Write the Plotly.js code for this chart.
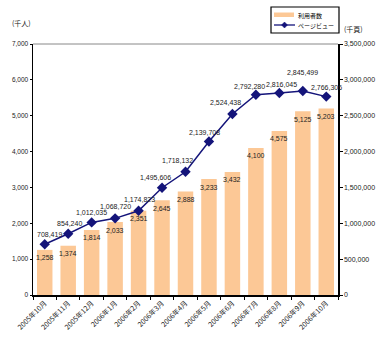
<!DOCTYPE html>
<html><head><meta charset="utf-8">
<script src="https://cdn.plot.ly/plotly-3.0.1.min.js"></script>
<style>html,body{margin:0;padding:0;background:#fff}#c{width:383px;height:355px}</style>
</head><body><div id="c"></div>
<script>
const months = ["2005年10月","2005年11月","2005年12月","2006年1月","2006年2月","2006年3月","2006年4月","2006年5月","2006年6月","2006年7月","2006年8月","2006年9月","2006年10月"];
const users = [1258,1374,1814,2033,2351,2645,2888,3233,3432,4100,4575,5125,5203];
const pageviews = [708419,854240,1012035,1068720,1174823,1495606,1718132,2139708,2524438,2792280,2816045,2845499,2766306];
const leftTicks = [0,1000,2000,3000,4000,5000,6000,7000];
const rightTicks = [0,500000,1000000,1500000,2000000,2500000,3000000,3500000];
const seriesNames = ["利用者数","ページビュー"];

// label placement nudges (pixels) – layout only
const pvNudgeX = [5,1,0,0,1,-7,-8,-4,-7,-6,2,0,0];
const pvNudgeY = [10,10,10,12,11,10,11,9,11,8,9,18,9];

const fmt = v => v.toLocaleString('en-US');
const NUM = "'Liberation Sans', Arial, sans-serif";
const CJK = "'Noto Sans CJK JP', 'Liberation Sans', sans-serif";
const NAVY = '#14147a';
const ORANGE = '#FCC896';

// pixel -> paper helpers (plot area: x 33..338, y 44..295)
const PX = x => (x-33)/305, PY = y => (295-y)/251;

const traces = [
  {type:'bar', name:seriesNames[0], x:months, y:users, marker:{color:ORANGE}, width:0.66, showlegend:false},
  {type:'scatter', mode:'lines+markers', name:seriesNames[1], x:months, y:pageviews, yaxis:'y2',
   line:{color:NAVY, width:1.5}, marker:{symbol:'diamond', size:8, color:NAVY}, showlegend:false, cliponaxis:false}
];

const annotations = [];
months.forEach((m,i) => {
  annotations.push({x:m, y:users[i], xref:'x', yref:'y', text:fmt(users[i]), showarrow:false,
    yanchor:'middle', yshift:-8, font:{family:NUM, size:7, color:'#222'}});
  annotations.push({x:m, y:pageviews[i], xref:'x', yref:'y2', text:fmt(pageviews[i]), showarrow:false,
    yanchor:'middle', yshift:pvNudgeY[i], xshift:pvNudgeX[i], font:{family:NUM, size:7, color:'#222'}});
});
annotations.push(
  {text:'(千人)', xref:'paper', yref:'paper', x:PX(10), y:PY(23), xanchor:'left', yanchor:'middle', showarrow:false, font:{family:CJK, size:7, color:'#222'}},
  {text:'(千頁)', xref:'paper', yref:'paper', x:PX(342), y:PY(29), xanchor:'left', yanchor:'middle', showarrow:false, font:{family:CJK, size:7, color:'#222'}},
  {text:seriesNames[0], xref:'paper', yref:'paper', x:PX(296), y:PY(15), xanchor:'left', yanchor:'middle', showarrow:false, font:{family:CJK, size:6, color:'#000'}},
  {text:seriesNames[1], xref:'paper', yref:'paper', x:PX(296), y:PY(25), xanchor:'left', yanchor:'middle', showarrow:false, font:{family:CJK, size:6, color:'#000'}}
);

const diamond = `M${PX(281.5)},${PY(25)} L${PX(284.5)},${PY(22)} L${PX(287.5)},${PY(25)} L${PX(284.5)},${PY(28)} Z`;
const shapes = [
  {type:'line', xref:'paper', yref:'paper', x0:0, x1:1, y0:1, y1:1, line:{color:'#888', width:1}},
  {type:'rect', xref:'paper', yref:'paper', x0:PX(271), x1:PX(339), y0:PY(7), y1:PY(33), line:{color:'#000', width:1.2}, fillcolor:'#fff'},
  {type:'rect', xref:'paper', yref:'paper', x0:PX(274), x1:PX(294), y0:PY(12.5), y1:PY(17), line:{width:0}, fillcolor:ORANGE},
  {type:'line', xref:'paper', yref:'paper', x0:PX(274), x1:PX(295), y0:PY(25), y1:PY(25), line:{color:NAVY, width:1.3}},
  {type:'path', xref:'paper', yref:'paper', path:diamond, line:{color:NAVY, width:0.5}, fillcolor:NAVY}
];

const layout = {
  width:383, height:355, margin:{l:33, r:45, t:44, b:60},
  paper_bgcolor:'#fff', plot_bgcolor:'#fff', showlegend:false,
  font:{family:NUM, size:7, color:'#222'},
  xaxis:{type:'category', tickangle:-45, tickfont:{family:CJK, size:7, color:'#222'}, showline:true, linecolor:'#000', linewidth:1.5,
         ticks:'outside', ticklen:3, tickcolor:'#000', tickson:'boundaries', showgrid:false, zeroline:false, range:[-0.5,12.5]},
  yaxis:{range:[0,7000], tickvals:leftTicks, ticktext:leftTicks.map(fmt), tickfont:{size:6.5},
         showline:true, linecolor:'#000', linewidth:1.5, ticks:'outside', ticklen:2, tickcolor:'#000', showgrid:false, zeroline:false},
  yaxis2:{range:[0,3500000], overlaying:'y', side:'right', tickvals:rightTicks, ticktext:rightTicks.map(fmt), tickfont:{size:7},
          showline:true, linecolor:'#000', linewidth:1.5, ticks:'outside', ticklen:3, tickcolor:'#000', showgrid:false, zeroline:false},
  shapes, annotations
};
Plotly.newPlot('c', traces, layout, {displayModeBar:false, staticPlot:true});
</script></body></html>
